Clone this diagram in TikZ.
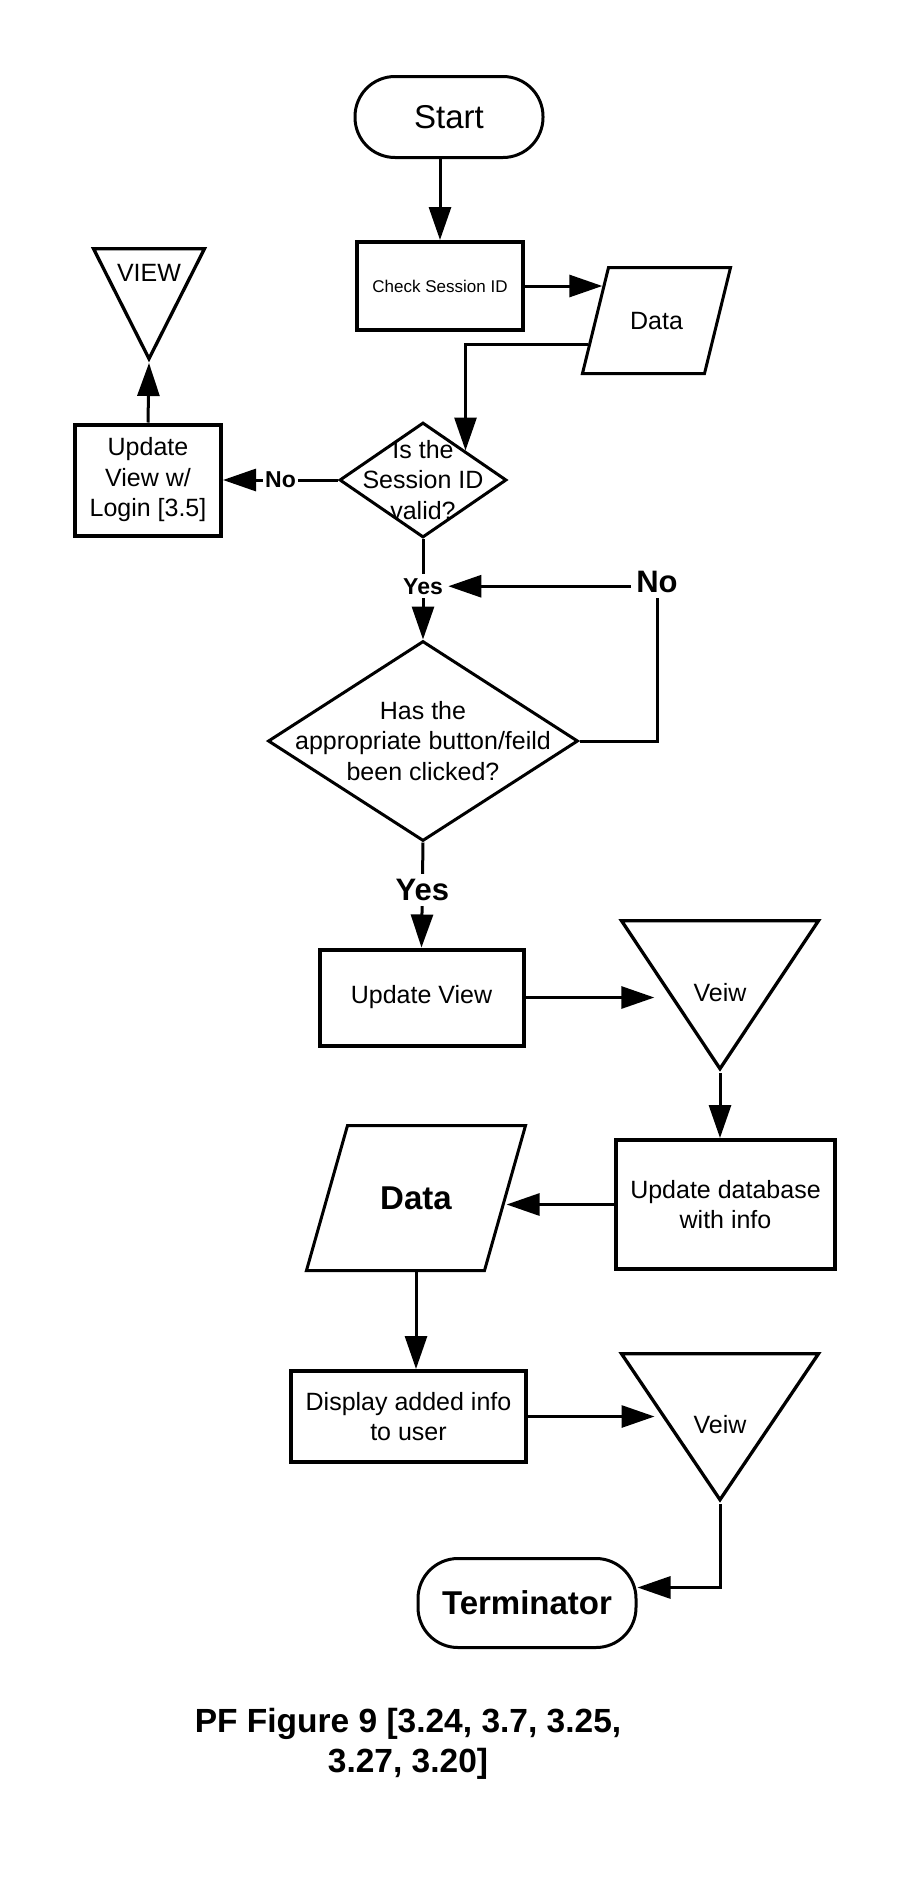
\documentclass[tikz,border=0pt]{standalone}
\usepackage{fontspec}
\setmainfont{Liberation Sans}
\usetikzlibrary{positioning, shapes.geometric, arrows.meta, calc}

\begin{document}
\begin{tikzpicture}[x=1pt, y=-1pt
    , txt/.style={align=center, font=\fontsize{25}{30.5}\selectfont}
    , base/.style={draw, txt, inner sep=0pt}
    , terminal/.style={base, line width=3pt, rounded corners=40pt}
    , process/.style={base, rectangle, line width=4pt}
    , decision/.style={base, diamond, line width=3pt}
    , io/.style={base, trapezium, line width=3pt}
    , viewtri/.style={base, isosceles triangle, shape border rotate=-90, isosceles triangle stretches, line width=3.3pt}
    , arrow/.style={line width=3pt, -{Triangle[length=33pt, width=22pt]}}
    , wire/.style={line width=3pt}
    , lbl/.style={font=\bfseries\fontsize{23}{23}\selectfont, fill=white}
    , biglbl/.style={font=\bfseries\fontsize{31}{31}\selectfont, fill=white}
    ]
    \useasboundingbox (3,0) rectangle (912,1879);

    % login check
    \node (start) [terminal, minimum width=188pt, minimum height=81pt, font=\fontsize{33}{33}\selectfont] at (452,117) {Start};
    \node (check) [process, minimum width=166pt, minimum height=88pt, font=\fontsize{17}{17}\selectfont] at (443,286) {Check Session ID};
    \node (data1) [io, trapezium left angle=76.2, trapezium right angle=103.8
      , text width=96pt, text height=62pt, text depth=44pt] at (659.5,320.5) {Data};
    \node (valid) [decision, minimum width=167pt, minimum height=115pt
      , label={[txt]center:Is the\\Session ID\\valid?}] at (426,480) {};
    \node (login) [process, minimum width=146pt, minimum height=111pt] at (151,480) {Update\\View w/\\Login [3.5]};
    \node (view) [viewtri, minimum width=111pt, minimum height=110pt, anchor=apex] at (152,363) {};
    \node (viewtxt) [txt] at ($(view.apex)+(0,-90)$) {VIEW};

    % button or field clicked
    \node (has) [decision, minimum width=310pt, minimum height=200pt
      , label={[txt]center:Has the\\appropriate button/feild\\been clicked?}] at (426,741) {};
    \node (no2) [biglbl, inner sep=5pt] at (660,582) {No};
    \node (uv) [process, minimum width=204pt, minimum height=96pt] at (424.5,997.5) {Update View};
    \node (veiw1) [viewtri, minimum width=197pt, minimum height=148pt, anchor=apex] at (723,1073) {};
    \node (veiw1txt) [txt] at ($(veiw1.apex)+(0,-80)$) {Veiw};

    % store and show the info
    \node (updb) [process, minimum width=219pt, minimum height=129pt] at (728.5,1204.5) {Update database\\with info};
    \node (data2) [io, trapezium left angle=74.2, trapezium right angle=105.8
      , text width=137pt, text height=84.3pt, text depth=60.7pt
      , font=\bfseries\fontsize{33}{33}\selectfont] at (419,1198) {Data};
    \node (disp) [process, minimum width=235pt, minimum height=91pt] at (411.5,1416.5) {Display added info\\to user};
    \node (veiw2) [viewtri, minimum width=197pt, minimum height=146pt, anchor=apex] at (723,1504) {};
    \node (veiw2txt) [txt] at ($(veiw2.apex)+(0,-79)$) {Veiw};
    \node (term) [terminal, minimum width=218pt, minimum height=89pt, font=\bfseries\fontsize{33}{33}\selectfont] at (530,1603) {Terminator};

    \node (caption) [align=center, font=\bfseries\fontsize{33.5}{40}\selectfont] at (411,1744) {PF Figure 9 [3.24, 3.7, 3.25,\\3.27, 3.20]};

    % connectors
    \draw[arrow] (check |- start.south) -- (check.north);
    \draw[arrow, shorten >=5pt] (check.east) -- (check.east -| data1.top left corner);
    \draw[arrow] ($(data1.bottom left corner)!0.28!(data1.top left corner)$) -| ($(valid.north)!0.5!(valid.east)$);
    \draw[arrow] (valid.west) -- node[lbl, inner sep=2pt] (no1) {No} (login.east);
    \draw[arrow] (login.north) -- (view.apex);
    \draw[arrow] (valid.south) -- node[lbl, pos=0.47, inner sep=4pt] (yes1) {Yes} (has.north);
    \draw[wire] (has.east) -| (no2.south);
    \draw[arrow] (no2.west |- yes1) -- (yes1.east);
    \draw[arrow] (has.south) -- node[biglbl, pos=0.45, inner sep=5pt] (yes2) {Yes} (uv.north);
    \draw[arrow] (uv.east) -- (uv.east -| veiw1.west);
    \draw[arrow] (veiw1.apex) -- (veiw1.apex |- updb.north);
    \draw[arrow] (updb.west) -- (updb.west -| data2.east);
    \draw[arrow] (data2.south) -- (data2.south |- disp.north);
    \draw[arrow] (disp.east) -- (disp.east -| veiw2.west);
    \draw[arrow] (veiw2.apex) |- (term.8);
\end{tikzpicture}
\end{document}
